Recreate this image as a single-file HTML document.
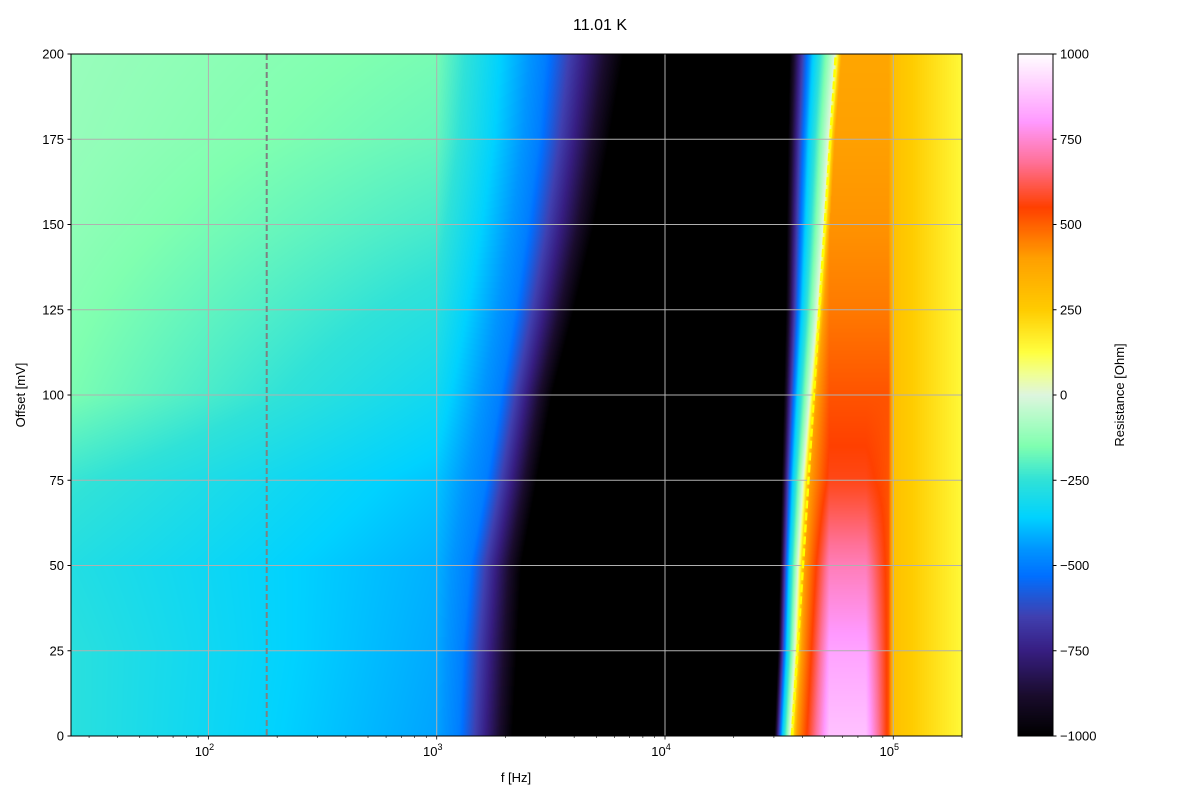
<!DOCTYPE html>
<html><head><meta charset="utf-8"><style>
body{margin:0;background:#fff;width:1200px;height:800px;overflow:hidden;font-family:"Liberation Sans","DejaVu Sans",sans-serif}
#wrap{position:relative;width:1200px;height:800px}
canvas{position:absolute}
</style></head><body>
<div id="wrap">
<canvas id="hm" style="left:71px;top:54px" width="891" height="682"></canvas>
<canvas id="cb" style="left:1018px;top:54px" width="35" height="682"></canvas>
<svg id="ov" width="1200" height="800" style="position:absolute;left:0;top:0"></svg>
</div>
<script>
// ---- data ----
const offsets   = [0, 25, 50, 75, 100, 125, 150, 175, 200];          // mV
const v25       = [-265, -265, -280, -240, -155, -140, -125, -115, -110]; // value at 25 Hz
const v1k       = [-430, -420, -410, -380, -320, -270, -220, -180, -160]; // value at 1 kHz
const fBlue     = [1250, 1300, 1400, 1650, 1900, 2200, 2500, 2800, 3000];  // Hz where R=-500
const fBlack    = [2150, 2250, 2350, 2750, 3200, 4000, 4900, 5700, 6600];  // Hz where R=-1000
const fBlackEnd = [30200, 31300, 31900, 32500, 33200, 33900, 34200, 34600, 35200];
const fZero     = [35200, 37000, 38200, 40200, 43100, 46300, 49200, 51800, 55500];
const peakVal   = [880, 820, 720, 570, 520, 460, 420, 400, 380];
const dashFreqs = [36000, 56000];   // yellow dashed line at offset 0 and 200
const dashOffs  = [0, 200];
const vlineFreq = 180;
const xTicks = [100, 1000, 10000, 100000];
const xTickLabels = ['10','10','10','10'];
const xTickExp = ['2','3','4','5'];
const yTicks = [0, 25, 50, 75, 100, 125, 150, 175, 200];
const cbTicks = [-1000, -750, -500, -250, 0, 250, 500, 750, 1000];

// ---- axes ----
const PL=71, PR=962, PT=54, PB=736;
const LMIN=Math.log10(25), LMAX=Math.log10(200000);
const xS = f => PL + (Math.log10(f)-LMIN)/(LMAX-LMIN)*(PR-PL);
const yS = v => PB - v/200*(PB-PT);
const cbY = v => PB - (v+1000)/2000*(PB-PT);

// colormap
const cstops = [[-1000,[0,0,0]],[-880,[26,12,45]],[-750,[55,30,130]],[-650,[64,64,176]],[-530,[0,112,255]],[-450,[0,150,255]],[-360,[0,210,255]],[-250,[48,226,216]],[-150,[128,255,176]],[-50,[190,250,205]],[0,[222,245,222]],[60,[240,255,150]],[125,[255,255,64]],[250,[255,204,0]],[400,[255,160,0]],[550,[255,64,0]],[680,[255,112,150]],[800,[255,153,255]],[1000,[255,255,255]]];
function cmap(v){
  v=Math.max(-1000,Math.min(1000,v));
  for(let i=1;i<cstops.length;i++){ if(v<=cstops[i][0]){const a=cstops[i-1],b=cstops[i];const t=(v-a[0])/(b[0]-a[0]);return a[1].map((c,k)=>c+(b[1][k]-c)*t);} }
  return cstops[cstops.length-1][1];
}
function rowProfile(i){
  const L=Math.log10, z=L(fZero[i]), pk=peakVal[i];
  return [[LMIN,v25[i]],[3.0,v1k[i]],[L(fBlue[i]),-500],[L(fBlack[i]),-1000],[L(fBlackEnd[i]),-1000],[(L(fBlackEnd[i])+z)/2,-380],[z,0],[z+0.03,Math.min(400,pk)],[4.72,pk],[4.88,pk],[4.98,Math.min(pk,520)],[5.0,290],[LMAX,140]];
}
function evalProf(p,l){
  if(l<=p[0][0])return p[0][1];
  for(let i=1;i<p.length;i++){if(l<=p[i][0]){const t=(l-p[i-1][0])/(p[i][0]-p[i-1][0]||1);return p[i-1][1]+(p[i][1]-p[i-1][1])*t;}}
  return p[p.length-1][1];
}
// heatmap
(function(){
  const c=document.getElementById('hm'),ctx=c.getContext('2d'),W=c.width,H=c.height;
  const img=ctx.createImageData(W,H);
  const profs=offsets.map((_,i)=>rowProfile(i));
  for(let y=0;y<H;y++){
    const off=(PB-(PT+y+0.5))/(PB-PT)*200;
    let r=0;while(r<offsets.length-2&&off>offsets[r+1])r++;
    const t=Math.max(0,Math.min(1,(off-offsets[r])/(offsets[r+1]-offsets[r])));
    const pa=profs[r],pb=profs[r+1];
    const p=pa.map((k,j)=>[k[0]+(pb[j][0]-k[0])*t,k[1]+(pb[j][1]-k[1])*t]);
    for(let x=0;x<W;x++){
      const l=LMIN+(x+0.5)/W*(LMAX-LMIN);
      const col=cmap(evalProf(p,l));const o=(y*W+x)*4;
      img.data[o]=col[0];img.data[o+1]=col[1];img.data[o+2]=col[2];img.data[o+3]=255;
    }
  }
  ctx.putImageData(img,0,0);
  const cb=document.getElementById('cb'),cx=cb.getContext('2d');
  for(let y=0;y<cb.height;y++){const v=1000-(y+0.5)/cb.height*2000;const col=cmap(v);cx.fillStyle=`rgb(${col.map(Math.round).join(',')})`;cx.fillRect(0,y,35,1);}
})();
// overlay
const NS='http://www.w3.org/2000/svg', svg=document.getElementById('ov');
function el(tag,attrs,txt){const e=document.createElementNS(NS,tag);for(const k in attrs)e.setAttribute(k,attrs[k]);if(txt!==undefined)e.textContent=txt;svg.appendChild(e);return e;}
xTicks.forEach(f=>{const g=el('line',{x1:xS(f),x2:xS(f),y1:PT,y2:PB,stroke:'#b0b0b0','stroke-width':1});

});
yTicks.forEach(v=>{const g=el('line',{x1:PL,x2:PR,y1:yS(v),y2:yS(v),stroke:'#b0b0b0','stroke-width':1});

});
const vl=el('line',{x1:xS(vlineFreq),x2:xS(vlineFreq),y1:PT,y2:PB,stroke:'#808080','stroke-width':2,'stroke-dasharray':'6,3'});


const dl=el('line',{x1:xS(dashFreqs[0]),y1:yS(dashOffs[0]),x2:xS(dashFreqs[1]),y2:yS(dashOffs[1]),stroke:'#ffff00','stroke-width':2.5,'stroke-dasharray':'8,4'});


const fr=el('rect',{x:PL,y:PT,width:PR-PL,height:PB-PT,fill:'none',stroke:'#000','stroke-width':1});


const cf=el('rect',{x:1018,y:PT,width:35,height:PB-PT,fill:'none',stroke:'#000','stroke-width':1});


for(let d=1;d<=5;d++)for(let m=1;m<10;m++){const f=m*Math.pow(10,d);if(f<25||f>200000)continue;
  el('line',{x1:xS(f),x2:xS(f),y1:PB,y2:PB+(m===1?3.5:2),stroke:'#000','stroke-width':m===1?0.8:0.6});}
xTicks.forEach((f,i)=>{const t=el('text',{x:xS(f)-4,y:PB+20,'font-size':13,'text-anchor':'middle'});t.textContent=xTickLabels[i];
const s=document.createElementNS(NS,'tspan');s.setAttribute('dy','-6');s.setAttribute('font-size','9');s.textContent=xTickExp[i];t.appendChild(s);

});
yTicks.forEach(v=>{el('line',{x1:PL-3.5,x2:PL,y1:yS(v),y2:yS(v),stroke:'#000'});
const t=el('text',{x:PL-7,y:yS(v)+4.5,'font-size':13,'text-anchor':'end'},String(v));

});
cbTicks.forEach(v=>{el('line',{x1:1053,x2:1056.5,y1:cbY(v),y2:cbY(v),stroke:'#000'});
const t=el('text',{x:1060,y:cbY(v)+4.5,'font-size':13},String(v).replace('-','\u2212'));

});
const ti=el('text',{x:600,y:30,'font-size':16,'text-anchor':'middle'},'11.01 K');


const xl=el('text',{x:516,y:782,'font-size':13,'text-anchor':'middle'},'f [Hz]');


const yl=el('text',{x:0,y:0,'font-size':13,'text-anchor':'middle',transform:'translate(25,395) rotate(-90)'},'Offset [mV]');


const cl=el('text',{x:0,y:0,'font-size':13,'text-anchor':'middle',transform:'translate(1124,395) rotate(-90)'},'Resistance [Ohm]');


</script>
</body></html>
